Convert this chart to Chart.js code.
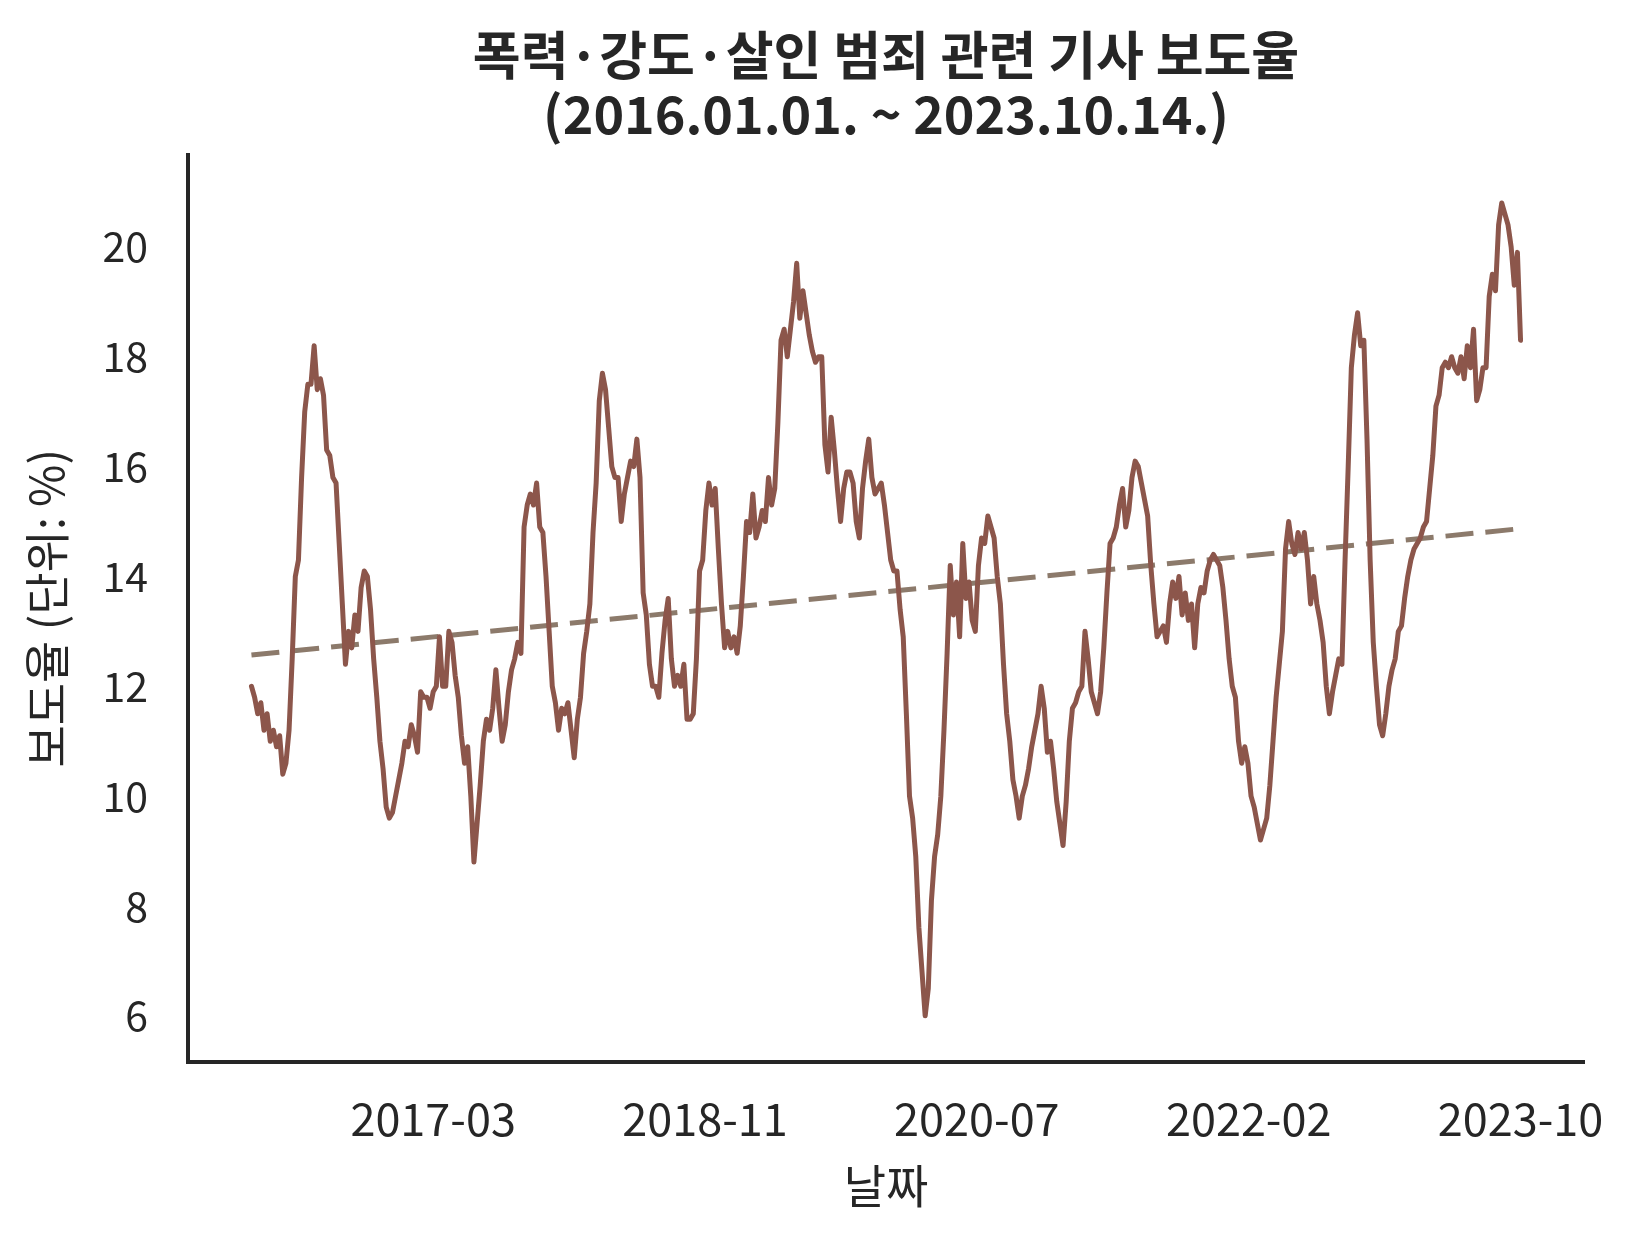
<!DOCTYPE html>
<html>
<head>
<meta charset="utf-8">
<script src="https://cdn.jsdelivr.net/npm/chart.js@4.4.0/dist/chart.umd.min.js"></script>
<style>
  html, body { margin: 0; padding: 0; background: #fff; }
</style>
</head>
<body>
<canvas id="chart" width="1642" height="1241"></canvas>
<script>
// 보도율 시계열 (주 단위로 읽은 값, firstDate ~ lastDate 사이 등간격)
const firstDate = '2016-02-12';
const lastDate = '2023-10-14';
const tickDates = ['2017-03-19', '2018-11-09', '2020-07-01', '2022-02-21', '2023-10-14'];
const yTicks = [6, 8, 10, 12, 14, 16, 18, 20];
// 추세선 시작/끝 값
const trendValues = [12.57, 14.87];

const rate = [
  12.0, 11.8, 11.5, 11.7, 11.2, 11.5, 11.0, 11.2, 10.9, 11.1, 10.4, 10.6, 11.2, 12.5, 14.0, 14.3,
  15.8, 17.0, 17.5, 17.5, 18.2, 17.4, 17.6, 17.3, 16.3, 16.2, 15.8, 15.7, 14.6, 13.5, 12.4,
  13.0, 12.7, 13.3, 13.0, 13.8, 14.1, 14.0, 13.4, 12.5, 11.8, 11.0, 10.5, 9.8, 9.6, 9.7, 10.0,
  10.3, 10.6, 11.0, 10.9, 11.3, 11.1, 10.8, 11.9, 11.8, 11.8, 11.6, 11.9, 12.0, 12.9, 12.0, 12.0,
  13.0, 12.8, 12.2, 11.8, 11.1, 10.6, 10.9, 10.0, 8.8, 9.5, 10.2, 11.0, 11.4, 11.2, 11.6, 12.3,
  11.6, 11.0, 11.3, 11.9, 12.3, 12.5, 12.8, 12.6, 14.9, 15.3, 15.5, 15.3, 15.7, 14.9, 14.8, 14.0,
  13.0, 12.0, 11.7, 11.2, 11.6, 11.5, 11.7, 11.2, 10.7, 11.4, 11.8, 12.6, 13.0, 13.5, 14.8, 15.7,
  17.2, 17.7, 17.4, 16.7, 16.0, 15.8, 15.8, 15.0, 15.5, 15.8, 16.1, 16.0, 16.5, 15.8, 13.7, 13.3,
  12.4, 12.0, 12.0, 11.8, 12.6, 13.2, 13.6, 12.5, 12.0, 12.2, 12.0, 12.4, 11.4, 11.4, 11.5, 12.5,
  14.1, 14.3, 15.2, 15.7, 15.3, 15.6, 14.5, 13.5, 12.7, 13.0, 12.7, 12.9, 12.6, 13.1, 14.0, 15.0,
  14.8, 15.5, 14.7, 14.9, 15.2, 15.0, 15.8, 15.3, 15.6, 16.8, 18.3, 18.5, 18.0, 18.5, 19.0, 19.7,
  18.7, 19.2, 18.8, 18.4, 18.1, 17.9, 18.0, 18.0, 16.4, 15.9, 16.9, 16.3, 15.6, 15.0, 15.6, 15.9,
  15.9, 15.7, 15.0, 14.7, 15.6, 16.1, 16.5, 15.8, 15.5, 15.6, 15.7, 15.3, 14.8, 14.3, 14.1, 14.1,
  13.4, 12.9, 11.5, 10.0, 9.6, 8.9, 7.6, 6.8, 6.0, 6.5, 8.1, 8.9, 9.3, 10.0, 11.2, 12.6,
  14.2, 13.3, 13.9, 12.9, 14.6, 13.6, 13.9, 13.2, 13.0, 14.2, 14.7, 14.6, 15.1, 14.9, 14.7, 14.0,
  13.5, 12.4, 11.5, 11.0, 10.3, 10.0, 9.6, 10.0, 10.2, 10.5, 10.9, 11.2, 11.5, 12.0, 11.6, 10.8,
  11.0, 10.5, 9.9, 9.5, 9.1, 9.9, 11.0, 11.6, 11.7, 11.9, 12.0, 13.0, 12.5, 11.9, 11.7, 11.5,
  11.9, 12.7, 13.7, 14.6, 14.7, 14.9, 15.3, 15.6, 14.9, 15.2, 15.8, 16.1, 16.0, 15.7, 15.4, 15.1,
  14.2, 13.5, 12.9, 13.0, 13.1, 12.8, 13.5, 13.9, 13.6, 14.0, 13.3, 13.7, 13.2, 13.5, 12.7, 13.5,
  13.8, 13.7, 14.1, 14.3, 14.4, 14.3, 14.2, 13.8, 13.2, 12.5, 12.0, 11.8, 11.0, 10.6, 10.9, 10.6,
  10.0, 9.8, 9.5, 9.2, 9.4, 9.6, 10.2, 11.0, 11.8, 12.4, 13.0, 14.5, 15.0, 14.6, 14.4, 14.8,
  14.5, 14.8, 14.3, 13.5, 14.0, 13.5, 13.2, 12.8, 12.0, 11.5, 11.9, 12.2, 12.5, 12.4, 14.3, 16.0,
  17.8, 18.4, 18.8, 18.2, 18.3, 16.5, 14.3, 12.8, 12.0, 11.3, 11.1, 11.5, 12.0, 12.3, 12.5, 13.0,
  13.1, 13.6, 14.0, 14.3, 14.5, 14.6, 14.7, 14.9, 15.0, 15.6, 16.2, 17.1, 17.3, 17.8, 17.9, 17.8,
  18.0, 17.8, 17.7, 18.0, 17.6, 18.2, 17.8, 18.5, 17.2, 17.4, 17.8, 17.8, 19.1, 19.5, 19.2, 20.4,
  20.8, 20.6, 20.4, 20.0, 19.3, 19.9, 18.3
];

const FONT = "'Noto Sans CJK KR', 'Noto Sans', sans-serif";
const INK = '#262626';

function toDay(s) {
  return Date.UTC(+s.slice(0, 4), +s.slice(5, 7) - 1, +s.slice(8, 10)) / 86400000;
}
function dayLabel(d) {
  const dt = new Date(d * 86400000);
  return dt.getUTCFullYear() + '-' + String(dt.getUTCMonth() + 1).padStart(2, '0');
}

const d0 = toDay(firstDate);
const d1 = toDay(lastDate);
const span = d1 - d0;
const step = span / (rate.length - 1);

const ratePoints = rate.map((v, i) => ({ x: d0 + i * step, y: v }));
const trendPoints = [{ x: d0, y: trendValues[0] }, { x: d1, y: trendValues[1] }];

new Chart(document.getElementById('chart'), {
  type: 'line',
  data: {
    datasets: [{
      data: ratePoints,
      borderColor: '#8c564b',
      borderWidth: 5,
      pointRadius: 0,
      tension: 0,
      borderJoinStyle: 'round',
      borderCapStyle: 'round'
    }, {
      data: trendPoints,
      borderColor: '#8c7a6b',
      borderWidth: 5,
      borderDash: [28, 12],
      pointRadius: 0
    }]
  },
  options: {
    responsive: false,
    devicePixelRatio: 1,
    animation: false,
    layout: { padding: { left: 0, right: 58, top: 0, bottom: 0 } },
    plugins: {
      legend: { display: false },
      tooltip: { enabled: false },
      title: {
        display: true,
        fullSize: false,
        text: ['폭력·강도·살인 범죄 관련 기사 보도율', '(2016.01.01. ~ 2023.10.14.)'],
        color: INK,
        font: { family: FONT, size: 52, weight: 'bold', lineHeight: 1.15 },
        padding: { top: 25, bottom: 10 }
      }
    },
    scales: {
      x: {
        type: 'linear',
        min: d0 - span * 0.05,
        max: d1 + span * 0.05,
        afterBuildTicks: (scale) => { scale.ticks = tickDates.map(s => ({ value: toDay(s) })); },
        afterFit: (scale) => { scale.height = 179; },
        grid: { display: false, drawTicks: false },
        border: { display: true, color: INK, width: 4 },
        ticks: {
          color: INK,
          font: { family: FONT, size: 45 },
          padding: 30,
          maxRotation: 0,
          callback: (v) => dayLabel(v)
        },
        title: {
          display: true,
          text: '날짜',
          color: INK,
          font: { family: FONT, size: 46 },
          padding: { top: 0, bottom: 28 }
        }
      },
      y: {
        min: 5.16,
        max: 21.68,
        afterBuildTicks: (scale) => { scale.ticks = yTicks.map(v => ({ value: v })); },
        afterFit: (scale) => { scale.width = 188; },
        grid: { display: false, drawTicks: false },
        border: { display: true, color: INK, width: 4 },
        ticks: {
          color: INK,
          font: { family: FONT, size: 41 },
          padding: 40
        },
        title: {
          display: true,
          text: '보도율 (단위: %)',
          color: INK,
          font: { family: FONT, size: 46 },
          padding: { top: 19, bottom: 0 }
        }
      }
    }
  }
});
</script>
</body>
</html>
